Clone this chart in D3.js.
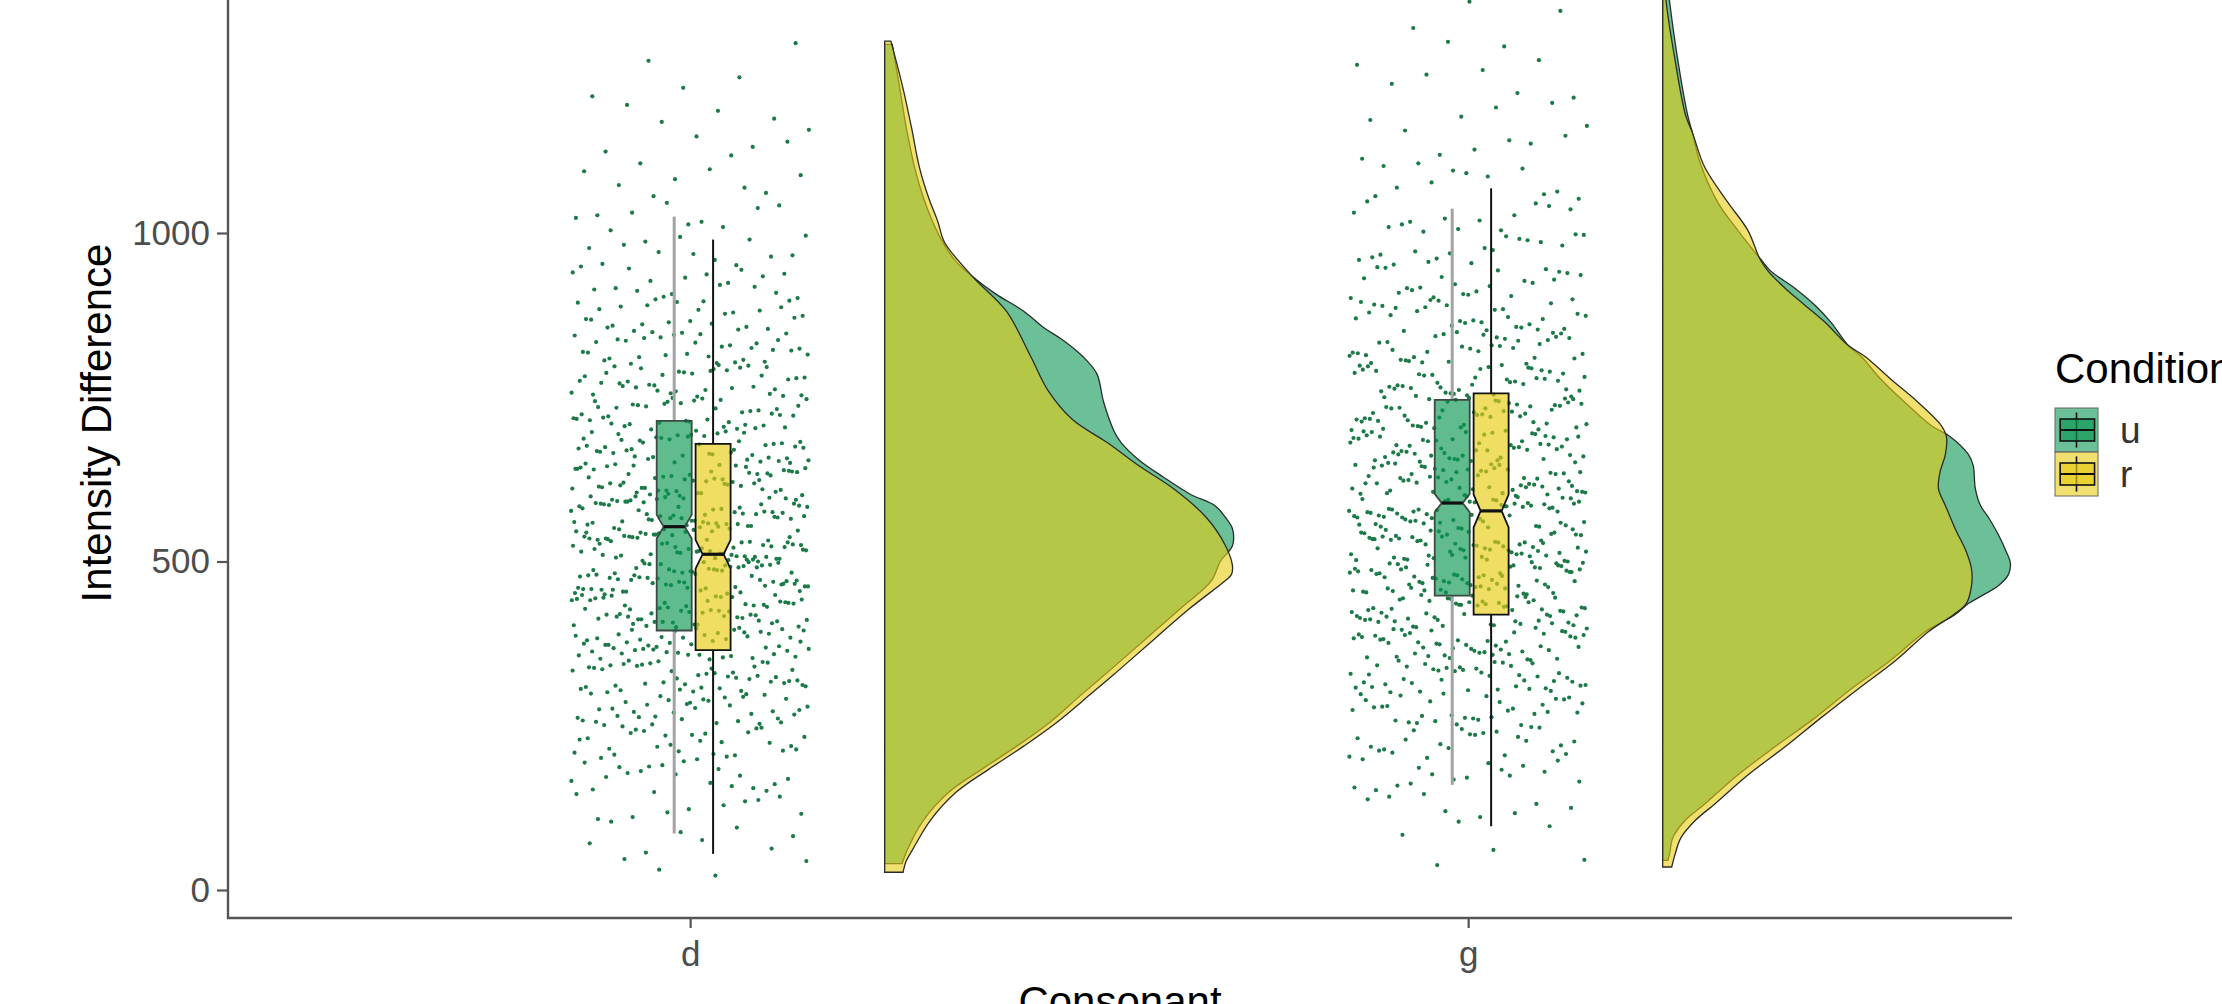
<!DOCTYPE html>
<html>
<head>
<meta charset="utf-8">
<script src="https://cdn.jsdelivr.net/npm/d3@7/dist/d3.min.js"></script>
<style>
  html, body { margin: 0; padding: 0; background: #fff; }
  svg { display: block; font-family: "Liberation Sans", Arial, sans-serif; }
</style>
</head>
<body>
<svg id="chart" width="2222" height="1004"></svg>
<script>
/* ------------------------------------------------------------------ */
/*  Data                              */
/* ------------------------------------------------------------------ */

const consonants = ['d', 'g'];
const conditions = ['u', 'r'];
const yTicks = [0, 500, 1000];

// Raw observations per consonant (both conditions pooled, drawn as jittered dots)
const pointsD = [
  31, 44, 22, 47,
  63, 88, 71, 95, 57, 82, 76,
  104, 137, 118, 146, 129, 111, 142, 123, 108, 135, 149, 116,
  163, 187, 151, 176, 194, 158, 181, 169, 199, 172, 155, 190, 166, 184, 178, 161, 196, 153, 174, 188,
  214, 238, 206, 247, 221, 229, 203, 244, 212, 236, 201, 240, 218, 233, 207, 249, 224, 211, 231, 205,
  242, 219, 227, 215, 246, 235, 209, 225, 239,
  261, 283, 256, 294, 252, 274, 288, 265, 297, 270, 258, 281, 263, 291, 277, 251, 268, 295, 279, 254,
  286, 272, 260, 299, 257, 282, 267, 290, 276, 253, 289, 262, 293, 271, 255, 285, 275, 298, 264,
  312, 337, 304, 346, 322, 309, 331, 343, 318, 327, 301, 340, 316, 334, 307, 349, 324, 313, 338, 303,
  345, 319, 329, 311, 347, 333, 306, 325, 341, 315, 302, 336, 321, 348, 310, 330, 344, 317, 305, 339,
  323, 314, 335, 308, 342, 326,
  362, 387, 354, 396, 371, 358, 383, 392, 366, 378, 351, 389, 369, 394, 375, 356, 381, 364, 398, 373,
  353, 385, 367, 391, 377, 359, 384, 363, 399, 372, 355, 388, 368, 393, 376, 357, 382, 365, 397, 374,
  352, 386, 370, 395, 379, 360, 390, 361, 380, 396, 367, 384, 358, 373,
  418, 437, 403, 446, 427, 409, 432, 444, 414, 421, 401, 440, 416, 434, 407, 449, 424, 412, 438, 404,
  445, 419, 429, 411, 447, 433, 406, 425, 441, 415, 402, 436, 422, 448, 410, 430, 443, 417, 405, 439,
  423, 413, 435, 408, 442, 426, 420, 431, 400, 428, 446, 412, 437, 404, 419, 433, 408, 441, 425, 416, 449,
  468, 487, 453, 496, 471, 459, 482, 494, 464, 477, 451, 490, 466, 484, 457, 499, 474, 462, 488, 454,
  495, 469, 479, 461, 497, 483, 456, 475, 491, 465, 452, 486, 472, 498, 460, 480, 493, 467, 455, 489,
  473, 463, 485, 458, 492, 476, 470, 481, 450, 478, 496, 462, 487, 454, 469, 483, 458, 491, 475, 466,
  499, 457, 472, 488, 460, 494, 479, 465, 485,
  527, 503, 541, 518, 546, 509, 532, 514, 544, 521, 501, 537, 516, 534, 507, 549, 524, 512, 538, 504,
  545, 519, 529, 511, 547, 533, 506, 525, 540, 515, 502, 536, 522, 548, 510, 530, 543, 517, 505, 539,
  523, 513, 535, 508, 542, 526, 520, 531, 500, 528, 546, 512, 537, 504, 519, 533, 508, 541, 525, 516,
  549, 507, 522, 538, 510, 544, 529, 515, 535, 503, 527,
  577, 553, 591, 568, 596, 559, 582, 564, 594, 571, 551, 587, 566, 584, 557, 599, 574, 562, 588, 554,
  595, 569, 579, 561, 597, 583, 556, 575, 590, 565, 552, 586, 572, 598, 560, 580, 593, 567, 555, 589,
  573, 563, 585, 558, 592, 576, 570, 581, 550, 578, 596, 562, 587, 554, 569, 583, 558, 591, 575, 566,
  599, 557, 572, 588, 560, 594,
  624, 603, 641, 618, 646, 609, 632, 614, 644, 627, 601, 637, 616, 634, 607, 649, 621, 612, 638, 604,
  645, 619, 629, 611, 647, 633, 606, 625, 640, 615, 602, 636, 622, 648, 610, 630, 643, 617, 605, 639,
  623, 613, 635, 608, 642, 626, 620, 631, 600, 628, 646, 612, 637, 604, 619, 633, 608, 641, 625,
  671, 653, 690, 668, 696, 659, 682, 664, 694, 677, 651, 687, 666, 684, 657, 699, 674, 662, 688, 654,
  695, 669, 679, 661, 697, 683, 656, 675, 691, 665, 652, 686, 672, 698, 660, 680, 693, 667, 655, 689,
  673, 663, 685, 658, 692, 676, 670, 681, 650, 678,
  721, 703, 740, 718, 746, 709, 732, 714, 744, 727, 701, 737, 716, 734, 707, 749, 724, 712, 738, 704,
  745, 719, 729, 711, 747, 733, 706, 725, 741, 715, 702, 736, 722, 748, 710, 730, 743, 717, 705, 739,
  723, 713, 735, 708,
  768, 753, 790, 771, 796, 759, 782, 764, 794, 777, 751, 787, 766, 784, 757, 799, 774, 762, 788, 754,
  795, 769, 779, 761, 797, 783, 756, 775, 791, 765, 752, 786, 772, 798, 760, 780, 793, 767, 755, 789,
  818, 803, 840, 821, 846, 809, 832, 814, 844, 827, 801, 837, 816, 834, 807, 849, 824, 812, 838, 804,
  845, 819, 829, 811, 847, 833, 806, 825, 841, 815, 802, 836, 822, 848,
  868, 853, 890, 871, 896, 859, 882, 864, 894, 877, 851, 887, 866, 884, 857, 899, 874, 862, 888, 854,
  895, 869, 879, 861, 897, 883, 856,
  918, 903, 940, 921, 946, 909, 932, 914, 944, 927, 901, 937, 916, 934, 907, 949, 924, 912, 938,
  968, 953, 990, 971, 996, 959, 982, 964, 994, 977, 951, 987, 966,
  1017, 1004, 1038, 1046, 1023, 1009, 1031, 1042, 1013, 1027,
  1069, 1056, 1088, 1097, 1073, 1061, 1082, 1094,
  1118, 1106, 1139, 1147, 1124, 1131,
  1169, 1157, 1186, 1195, 1174,
  1221, 1208, 1237,
  1262, 1289
];

const pointsG = [
  38, 46,
  61, 84, 97,
  104, 138, 117, 146, 125, 111, 142, 131, 120,
  156, 183, 162, 197, 171, 152, 189, 176, 165, 193, 159, 180, 168, 199, 174, 186,
  207, 236, 214, 248, 222, 203, 241, 229, 211, 245, 218, 233, 201, 226, 239, 209, 247, 216, 231, 205,
  243, 220, 237, 212, 227,
  257, 284, 263, 296, 271, 252, 289, 276, 265, 293, 259, 280, 268, 299, 274, 286, 255, 291, 262, 278,
  251, 287, 270, 295, 258, 282, 266, 298, 273, 254, 290, 261, 279,
  306, 334, 312, 347, 321, 303, 339, 328, 310, 344, 317, 331, 301, 325, 338, 308, 346, 315, 330, 304,
  342, 319, 336, 311, 326, 349, 307, 333, 316, 341, 302, 323, 337, 313, 345, 320, 329, 305, 340, 318,
  335, 309, 327,
  356, 384, 362, 397, 371, 353, 389, 378, 360, 394, 367, 381, 351, 375, 388, 358, 396, 365, 380, 354,
  392, 369, 386, 361, 376, 399, 357, 383, 366, 391, 352, 373, 387, 363, 395, 370, 379, 355, 390, 368,
  385, 359, 377, 393, 364, 382, 350, 374, 398, 372, 388,
  406, 434, 412, 447, 421, 403, 439, 428, 410, 444, 417, 431, 401, 425, 438, 408, 446, 415, 430, 404,
  442, 419, 436, 411, 426, 449, 407, 433, 416, 441, 402, 423, 437, 413, 445, 420, 429, 405, 440, 418,
  435, 409, 427, 443, 414, 432, 400, 424, 448, 422, 438, 411, 429, 403, 444, 417, 434, 426, 409,
  456, 484, 462, 497, 471, 453, 489, 478, 460, 494, 467, 481, 451, 475, 488, 458, 496, 465, 480, 454,
  492, 469, 486, 461, 476, 499, 457, 483, 466, 491, 452, 473, 487, 463, 495, 470, 479, 455, 490, 468,
  485, 459, 477, 493, 464, 482, 450, 474, 498, 472, 488, 461, 479, 453, 494, 467, 484, 476, 459, 491,
  470, 456, 482, 465, 497,
  506, 534, 512, 547, 521, 503, 539, 528, 510, 544, 517, 531, 501, 525, 538, 508, 546, 515, 530, 504,
  542, 519, 536, 511, 526, 549, 507, 533, 516, 541, 502, 523, 537, 513, 545, 520, 529, 505, 540, 518,
  535, 509, 527, 543, 514, 532, 500, 524, 548, 522, 538, 511, 529, 503, 544, 517, 534, 526, 509, 541,
  520, 506, 532, 515,
  556, 584, 562, 597, 571, 553, 589, 578, 560, 594, 567, 581, 551, 575, 588, 558, 596, 565, 580, 554,
  592, 569, 586, 561, 576, 599, 557, 583, 566, 591, 552, 573, 587, 563, 595, 570, 579, 555, 590, 568,
  585, 559, 577, 593, 564, 582, 550, 574, 598, 572, 588, 561, 579, 553, 594, 567, 584, 576, 559, 591, 570,
  613, 641, 606, 648, 627, 602, 636, 619, 609, 645, 622, 631, 604, 617, 639, 611, 647, 624, 633, 601,
  643, 616, 629, 607, 637, 649, 614, 625, 603, 640, 620, 634, 610, 646, 618, 628, 605, 642, 623, 635,
  612, 630, 600, 644, 615, 638, 608, 626, 621, 647, 604, 633, 611, 640, 619, 627, 606, 636, 613,
  663, 691, 656, 698, 677, 652, 686, 669, 659, 695, 672, 681, 654, 667, 689, 661, 697, 674, 683, 651,
  693, 666, 679, 657, 687, 699, 664, 675, 653, 690, 670, 684, 660, 696, 668, 678, 655, 692, 673, 685,
  662, 680, 650, 694, 665, 688, 658, 676, 671, 697, 654, 683, 661, 690, 669, 677, 656, 686,
  713, 741, 706, 748, 727, 702, 736, 719, 709, 745, 722, 731, 704, 717, 739, 711, 747, 724, 733, 701,
  743, 716, 729, 707, 737, 749, 714, 725, 703, 740, 720, 734, 710, 746, 718, 728, 705, 742, 723, 735,
  712, 730, 700, 744, 715, 738, 708, 726, 721, 747, 704, 733,
  763, 791, 756, 798, 777, 752, 786, 769, 759, 795, 772, 781, 754, 767, 789, 761, 797, 774, 783, 751,
  793, 766, 779, 757, 787, 799, 764, 775, 753, 790, 770, 784, 760, 796, 768, 778, 755, 792, 773, 785,
  762, 780, 750, 794, 765,
  813, 841, 806, 848, 827, 802, 836, 819, 809, 845, 822, 831, 804, 817, 839, 811, 847, 824, 833, 801,
  843, 816, 829, 807, 837, 849, 814, 825, 803, 840, 820, 834, 810, 846, 818, 828, 805, 842,
  863, 891, 856, 898, 877, 852, 886, 869, 859, 895, 872, 881, 854, 867, 889, 861, 897, 874, 883, 851,
  893, 866, 879, 857, 887, 899, 864, 875, 853, 890, 870, 884,
  913, 941, 906, 948, 927, 902, 936, 919, 909, 945, 922, 931, 904, 917, 939, 911, 947, 924, 933, 901,
  943, 916, 929, 907,
  963, 991, 956, 998, 977, 952, 986, 969, 959, 995, 972, 981, 954, 967, 989, 961, 997, 974,
  1013, 1041, 1006, 1048, 1027, 1002, 1036, 1019, 1009, 1045, 1022, 1031, 1004, 1017,
  1063, 1091, 1056, 1098, 1077, 1052, 1086, 1069, 1059, 1095,
  1113, 1141, 1106, 1148, 1127, 1102, 1136, 1119,
  1163, 1191, 1156, 1198, 1177, 1172,
  1213, 1241, 1206, 1248, 1227,
  1263, 1291, 1256, 1284,
  1312, 1338,
  1352
];

// Boxplot stats per consonant (d, g): [lower whisker, Q1, median, Q3, upper whisker, notch half-width]
const boxStatsU = [
  [86, 395, 553, 714, 1025, 18],
  [160, 448, 589, 746, 1037, 14]
];
const boxStatsR = [
  [55, 365, 511, 679, 990, 22],
  [97, 419, 577, 756, 1068, 25]
];

// Half-violin densities: [value, density scaled to the widest cloud]
const densDU = [
  [40, 0.05], [61, 0.065], [105, 0.11], [149, 0.185], [184, 0.28], [219, 0.38], [253, 0.47],
  [297, 0.565], [340, 0.66], [384, 0.755], [428, 0.85], [471, 0.94], [500, 0.965], [524, 1.0],
  [550, 1.0], [567, 0.98], [585, 0.95], [602, 0.88], [629, 0.80], [655, 0.73], [681, 0.68],
  [698, 0.66], [742, 0.63], [786, 0.61], [812, 0.57], [838, 0.51], [855, 0.46], [881, 0.40],
  [907, 0.32], [933, 0.254], [956, 0.206], [986, 0.167], [1017, 0.138], [1056, 0.11],
  [1100, 0.086], [1161, 0.062], [1222, 0.043], [1287, 0.022]
];
const densDR = [
  [27, 0.053], [44, 0.062], [61, 0.08], [105, 0.13], [149, 0.206], [184, 0.30], [219, 0.40],
  [253, 0.49], [297, 0.59], [340, 0.685], [384, 0.78], [428, 0.876], [471, 0.98], [480, 0.997],
  [494, 1.0], [524, 0.98], [567, 0.925], [611, 0.83], [646, 0.73], [681, 0.64], [716, 0.54],
  [760, 0.47], [812, 0.42], [881, 0.35], [933, 0.254], [986, 0.172], [1017, 0.153],
  [1056, 0.125], [1100, 0.10], [1161, 0.077], [1222, 0.052], [1292, 0.018]
];
const densGU = [
  [45, 0.015], [55, 0.02], [79, 0.029], [105, 0.063], [131, 0.121], [175, 0.216], [218, 0.323],
  [262, 0.438], [306, 0.542], [349, 0.654], [393, 0.755], [419, 0.84], [436, 0.879], [445, 0.908],
  [463, 0.965], [480, 0.994], [497, 1.0], [515, 0.988], [541, 0.965], [567, 0.937], [585, 0.914],
  [611, 0.899], [646, 0.893], [663, 0.879], [690, 0.827], [707, 0.772], [742, 0.697], [777, 0.628],
  [812, 0.571], [829, 0.533], [864, 0.484], [890, 0.438], [916, 0.38], [942, 0.311], [960, 0.282],
  [1004, 0.216], [1047, 0.158], [1108, 0.107], [1152, 0.086], [1179, 0.072], [1265, 0.043],
  [1352, 0.02], [1420, 0.006]
];
const densGR = [
  [35, 0.026], [53, 0.035], [79, 0.052], [105, 0.092], [131, 0.15], [175, 0.245], [218, 0.352],
  [262, 0.455], [306, 0.562], [349, 0.669], [393, 0.764], [419, 0.836], [436, 0.873], [463, 0.888],
  [489, 0.888], [515, 0.873], [550, 0.841], [585, 0.813], [611, 0.793], [637, 0.798], [663, 0.813],
  [690, 0.816], [707, 0.801], [742, 0.735], [777, 0.657], [812, 0.582], [829, 0.533], [864, 0.467],
  [890, 0.409], [916, 0.352], [942, 0.303], [960, 0.28], [1004, 0.245], [1047, 0.187],
  [1100, 0.121], [1152, 0.086], [1179, 0.066], [1265, 0.035], [1352, 0.01], [1400, 0.004]
];

/* ------------------------------------------------------------------ */
/*  Layout & styles                                                    */
/* ------------------------------------------------------------------ */

const FILL = { u: '#0a9653', r: '#e6cb11' };
const POINT_COLOR = '#1c7a48';
const AXIS_COLOR = '#555';

const svg = d3.select('#chart');

// x is continuous over category index (d = 1, g = 2), like ggplot's discrete scale
const x = d3.scaleLinear().domain([0.406, 2.699]).range([228, 2012]);
const y = d3.scaleLinear().domain([0, 1000]).range([890, 233]);
const panelBottom = 918;

const jitterHalf = 0.153;   // in category units
const cloudNudge = 0.25;
const cloudWidth = 0.447;
const boxWidth = 0.045;
const boxOffset = { u: -0.0205, r: 0.0295 };

const pointSets = [pointsD, pointsG];
const densSets = { u: [densDU, densGU], r: [densDR, densGR] };
const boxSets = { u: boxStatsU, r: boxStatsR };

/* ------------------------------------------------------------------ */
/*  Rain clouds (half violins)                                         */
/* ------------------------------------------------------------------ */

const clouds = svg.append('g').attr('class', 'clouds');
consonants.forEach((c, i) => {
  const base = i + 1 + cloudNudge;
  conditions.forEach(cond => {
    const area = d3.area()
      .curve(d3.curveCatmullRom.alpha(0.5))
      .y(d => y(d[0]))
      .x0(x(base))
      .x1(d => x(base + d[1] * cloudWidth));
    clouds.append('path')
      .datum(densSets[cond][i])
      .attr('d', area)
      .attr('fill', FILL[cond])
      .attr('fill-opacity', 0.6)
      .attr('stroke', '#2b2b2b')
      .attr('stroke-width', 1.3);
  });
});

/* ------------------------------------------------------------------ */
/*  Rain (jittered points)                                             */
/* ------------------------------------------------------------------ */

const rain = svg.append('g').attr('class', 'rain');
consonants.forEach((c, i) => {
  rain.selectAll(null)
    .data(pointSets[i])
    .enter().append('circle')
    // golden-ratio sequence gives an even, repeatable horizontal jitter
    .attr('cx', (d, k) => x(i + 1 + (((k * 0.6180339887 + 0.37) % 1) - 0.5) * 2 * jitterHalf))
    .attr('cy', d => y(d))
    .attr('r', 2.1)
    .attr('fill', POINT_COLOR);
});

/* ------------------------------------------------------------------ */
/*  Notched boxplots                                                   */
/* ------------------------------------------------------------------ */

const boxes = svg.append('g').attr('class', 'boxes');
consonants.forEach((c, i) => {
  conditions.forEach(cond => {
    const [lo, q1, med, q3, hi, nh] = boxSets[cond][i];
    const cx = i + 1 + boxOffset[cond];
    const xl = x(cx - boxWidth / 2), xr = x(cx + boxWidth / 2), xm = x(cx);
    const ind = (xr - xl) * 0.2;
    const whiskerColor = cond === 'u' ? '#a3a3a3' : '#111';
    const edge = cond === 'u' ? '#3b4a42' : '#111';

    boxes.append('line').attr('x1', xm).attr('x2', xm).attr('y1', y(q3)).attr('y2', y(hi))
      .attr('stroke', whiskerColor).attr('stroke-width', cond === 'u' ? 3 : 2);
    boxes.append('line').attr('x1', xm).attr('x2', xm).attr('y1', y(q1)).attr('y2', y(lo))
      .attr('stroke', whiskerColor).attr('stroke-width', cond === 'u' ? 3 : 2);

    const outline = [
      [xl, y(q3)], [xl, y(med + nh)], [xl + ind, y(med)], [xl, y(med - nh)], [xl, y(q1)],
      [xr, y(q1)], [xr, y(med - nh)], [xr - ind, y(med)], [xr, y(med + nh)], [xr, y(q3)]
    ];
    boxes.append('path')
      .attr('d', d3.line()(outline) + 'Z')
      .attr('fill', FILL[cond])
      .attr('fill-opacity', 0.65)
      .attr('stroke', edge)
      .attr('stroke-width', 1.8);
    boxes.append('line')
      .attr('x1', xl + ind).attr('x2', xr - ind).attr('y1', y(med)).attr('y2', y(med))
      .attr('stroke', '#111').attr('stroke-width', 3.2);
  });
});

/* ------------------------------------------------------------------ */
/*  Axes                                                               */
/* ------------------------------------------------------------------ */

const yAxis = svg.append('g')
  .attr('transform', `translate(${x.range()[0]},0)`)
  .call(d3.axisLeft(y).tickValues(yTicks).tickFormat(d3.format('d')).tickSize(11).tickPadding(7));
const xAxis = svg.append('g')
  .attr('transform', `translate(0,${panelBottom})`)
  .call(d3.axisBottom(x).tickValues([1, 2]).tickFormat(v => consonants[v - 1]).tickSize(10).tickPadding(13));

[yAxis, xAxis].forEach(ax => {
  ax.select('.domain').remove();
  ax.selectAll('.tick line').attr('stroke', AXIS_COLOR).attr('stroke-width', 2.2);
  ax.selectAll('.tick text')
    .attr('fill', '#4d4d4d')
    .style('font-size', '35px')
    .style('font-family', '"Liberation Sans", Arial, sans-serif');
});

svg.append('path')
  .attr('d', `M${x.range()[0]},0V${panelBottom}H${x.range()[1]}`)
  .attr('fill', 'none')
  .attr('stroke', AXIS_COLOR)
  .attr('stroke-width', 2.4);

svg.append('text')
  .attr('transform', 'translate(111,423) rotate(-90)')
  .attr('text-anchor', 'middle')
  .style('font-size', '42px')
  .text('Intensity Difference');

svg.append('text')
  .attr('x', (x.range()[0] + x.range()[1]) / 2)
  .attr('y', 1016)
  .attr('text-anchor', 'middle')
  .style('font-size', '42px')
  .text('Consonant');

/* ------------------------------------------------------------------ */
/*  Legend                                                             */
/* ------------------------------------------------------------------ */

const legend = svg.append('g').attr('transform', 'translate(2055,0)');
legend.append('text').attr('x', 0).attr('y', 383).style('font-size', '42px').text('Condition');

const keyW = 43, keyH = 44;
conditions.forEach((cond, j) => {
  const k = legend.append('g').attr('transform', `translate(0,${408 + j * keyH})`);
  k.append('rect').attr('width', keyW).attr('height', keyH)
    .attr('fill', FILL[cond]).attr('fill-opacity', 0.6)
    .attr('stroke', '#666').attr('stroke-width', 1);
  k.append('line').attr('x1', keyW / 2).attr('x2', keyW / 2).attr('y1', keyH * 0.1).attr('y2', keyH * 0.9)
    .attr('stroke', '#111').attr('stroke-width', 1.6);
  k.append('rect').attr('x', keyW * 0.12).attr('y', keyH * 0.25)
    .attr('width', keyW * 0.8).attr('height', keyH * 0.5)
    .attr('fill', FILL[cond]).attr('fill-opacity', 0.65)
    .attr('stroke', '#111').attr('stroke-width', 1.6);
  k.append('line').attr('x1', keyW * 0.12).attr('x2', keyW * 0.92).attr('y1', keyH / 2).attr('y2', keyH / 2)
    .attr('stroke', '#111').attr('stroke-width', 2);
  legend.append('text')
    .attr('x', 65).attr('y', 408 + j * keyH + keyH / 2 + 13)
    .attr('fill', '#333')
    .style('font-size', '37px')
    .text(cond);
});
</script>
</body>
</html>
